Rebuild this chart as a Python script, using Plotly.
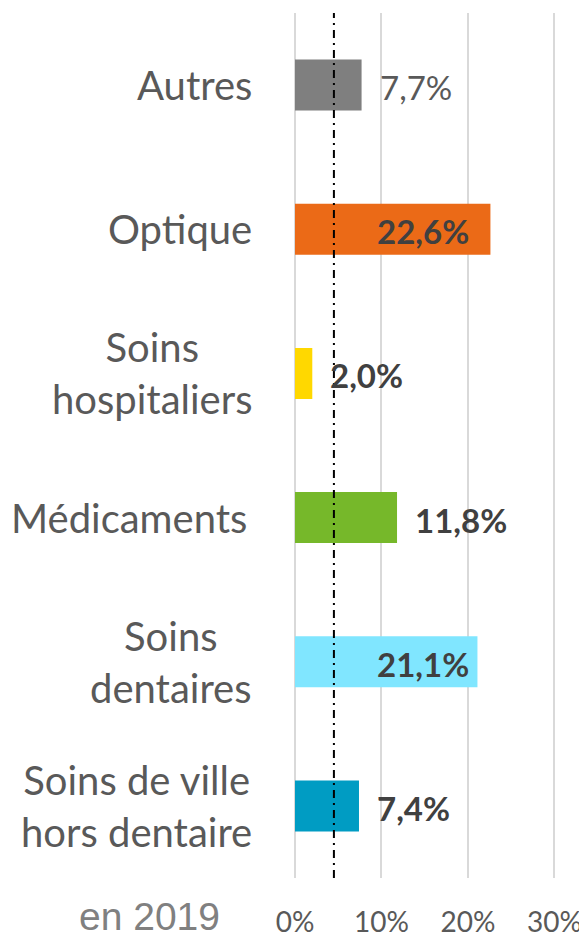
import plotly.graph_objects as go

categories = ["Autres", "Optique", "Soins<br>hospitaliers", "Médicaments\u2009",
              "Soins<br>dentaires", "Soins de ville<br>hors dentaire"]
values = [7.7, 22.6, 2.0, 11.8, 21.1, 7.4]
value_labels = ["7,7%", "22,6%", "2,0%", "11,8%", "21,1%", "7,4%"]
colors = ["#7f7f7f", "#eb6a17", "#ffd800", "#76b82a", "#80e6ff", "#009cc3"]
bold_label = [False, True, True, True, True, True]
reference_line = 4.5
tick_vals = [0, 10, 20, 30]
tick_text = ["0%", "10%", "20%", "30%"]
year_label = "en 2019"

FONT = "Lato"
# the page body has an 8px default margin, so the figure is drawn 8px smaller
fig = go.Figure()
fig.add_trace(go.Bar(
    y=list(range(len(categories))), x=values, orientation="h",
    marker=dict(color=colors, line=dict(width=0)),
    hoverinfo="skip", showlegend=False,
))

annotations = []
for i, (cat, v, lab, b) in enumerate(zip(categories, values, value_labels, bold_label)):
    annotations.append(dict(
        x=0, xref="paper", y=i, yref="y", text=cat, showarrow=False,
        xanchor="right", yanchor="middle", align="center", xshift=-41,
        font=dict(family=FONT, size=40, color="#595959"),
    ))
    inside = v > 20
    annotations.append(dict(
        x=20 if inside else v, xref="x", y=i, yref="y",
        text=f"<b>{lab}</b>" if b else lab, showarrow=False,
        xanchor="right" if inside else "left", yanchor="middle",
        xshift=3 if inside else 16, yshift=-2,
        font=dict(family=FONT, size=33, color="#404040" if b else "#595959"),
    ))
annotations.append(dict(
    x=0, xref="paper", y=0, yref="paper", text=year_label, showarrow=False,
    xanchor="right", yanchor="top", xshift=-73, yshift=-15,
    font=dict(family="Liberation Sans, Arial", size=39, color="#808080"),
))

fig.add_shape(type="line", x0=reference_line, x1=reference_line, y0=0, y1=1,
              xref="x", yref="paper",
              line=dict(color="black", width=2, dash="8px,5px,2px,5px"))

fig.update_layout(
    width=579, height=930,
    margin=dict(l=287, r=30, t=5, b=60),
    plot_bgcolor="white", paper_bgcolor="white",
    bargap=0.646,
    annotations=annotations,
    xaxis=dict(range=[0, 30.3], tickvals=tick_vals, ticktext=tick_text,
               automargin=False,
               showgrid=True, gridcolor="#d9d9d9", gridwidth=1.5,
               zeroline=True, zerolinecolor="#d9d9d9", zerolinewidth=1.5,
               showline=False, ticks="", ticklabelstandoff=25,
               tickfont=dict(family=FONT, size=28, color="#595959")),
    yaxis=dict(range=[len(categories) - 0.5, -0.5], showticklabels=False,
               automargin=False,
               showgrid=False, zeroline=False, showline=False, ticks=""),
)
fig.write_html("out.html")
